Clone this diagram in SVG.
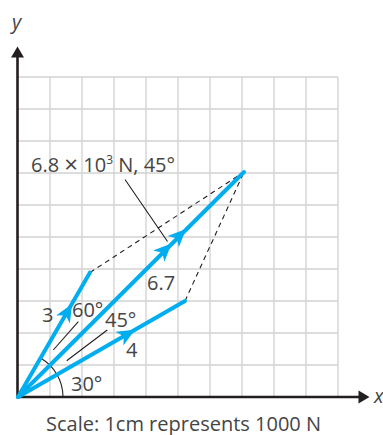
<svg xmlns="http://www.w3.org/2000/svg" width="383" height="435" viewBox="0 0 383 435">
<style>
.grid{stroke:#d2d2d2;stroke-width:1.3;fill:none}
.axis{stroke:#231f20;stroke-width:2.6;fill:none}
.vec{stroke:#00aeef;stroke-width:4;fill:none;stroke-linecap:round}
.dash{stroke:#231f20;stroke-width:1.1;fill:none;stroke-dasharray:5,4}
.lead{stroke:#231f20;stroke-width:1.1;fill:none}
.t{font-family:"Open Sans","Noto Sans",sans-serif;font-size:20px;fill:#454545}
.it{font-style:italic}
.ah{fill:#00aeef}
</style>
<defs>
<path id="ah" d="M0,0 L-18,-8 L-13,0 L-18,8 Z"/>
<path id="axh" d="M0,0 L-11,-6.5 L-11,6.5 Z"/>
</defs>
<g id="grid">
<path class="grid" d="M50,77V397M82,77V397M114,77V397M146,77V397M178,77V397M210,77V397M242,77V397M274,77V397M306,77V397M338,77V397M18,77H338M18,109H338M18,141H338M18,173H338M18,205H338M18,237H338M18,269H338M18,301H338M18,333H338M18,365H338"/>
</g>
<g id="axes">
<path class="axis" d="M17.5,398V56M16.5,397H359"/>
<use href="#axh" transform="translate(17.5,46.5) rotate(-90)" fill="#231f20"/>
<use href="#axh" transform="translate(369.5,397)" fill="#231f20"/>
<text class="t it" x="12" y="29">y</text>
<text class="t it" x="374" y="403">x</text>
</g>
<g id="connectors">
<path class="dash" d="M90,272.5L244,172M185,301L244,172"/>
<path class="lead" d="M125,179.5L167.5,241.5M78.3,321.7L53.3,350M107.3,330L66.7,360.7"/>
<path class="lead" d="M63,397 A45,45 0 0 0 40.5,358"/>
</g>
<g id="vector3">
<path class="vec" d="M18,397L90,272.5"/>
<use href="#ah" class="ah" transform="translate(72,304) rotate(-60)"/>
<text class="t" x="42" y="321.5">3</text>
</g>
<g id="vector4">
<path class="vec" d="M18,397L185,301"/>
<use href="#ah" class="ah" transform="translate(135,329.7) rotate(-29.9)"/>
<text class="t" x="126" y="357">4</text>
</g>
<g id="resultant">
<path class="vec" d="M18,397L244,172"/>
<use href="#ah" class="ah" transform="translate(186,229) rotate(-44.9)"/>
<use href="#ah" class="ah" transform="translate(171.5,243.5) rotate(-44.9)"/>
<text class="t" x="147" y="289.5">6.7</text>
</g>
<g id="labels">
<text class="t" x="31" y="172">6.8 <tspan font-size="24" dy="1">×</tspan><tspan dy="-1"> 10</tspan><tspan font-size="12" dy="-8">3</tspan><tspan dy="8"> N, 45°</tspan></text>
<text class="t" x="72" y="317">60°</text>
<text class="t" x="105" y="326.5">45°</text>
<text class="t" x="71" y="390.5">30°</text>
<text class="t" x="46" y="430.5">Scale: 1cm represents 1000 N</text>
</g>
</svg>
